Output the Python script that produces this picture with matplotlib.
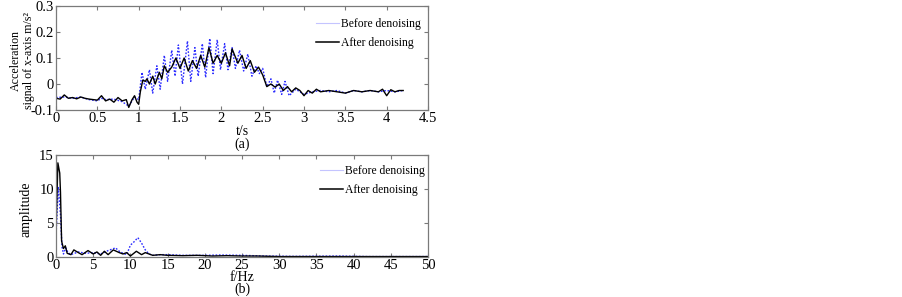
import matplotlib
matplotlib.use("Agg")
import matplotlib.pyplot as plt
from matplotlib.lines import Line2D

# (a) time signal, after denoising (black)
t_after = [0.0, 0.05, 0.1, 0.15, 0.2, 0.25, 0.3, 0.35, 0.4, 0.45, 0.5, 0.55, 0.6, 0.65,
           0.7, 0.75, 0.8, 0.85, 0.88, 0.92, 0.95, 0.98, 1.0, 1.02, 1.05, 1.08, 1.1, 1.13,
           1.17, 1.2, 1.25, 1.28, 1.31, 1.35, 1.4, 1.45, 1.5, 1.55, 1.6, 1.65, 1.7, 1.75,
           1.8, 1.85, 1.9, 1.95, 2.0, 2.05, 2.1, 2.13, 2.2, 2.25, 2.3, 2.35, 2.4, 2.45,
           2.5, 2.55, 2.6, 2.65, 2.7, 2.75, 2.8, 2.85, 2.9, 2.95, 3.0, 3.05, 3.1, 3.15,
           3.2, 3.3, 3.4, 3.5, 3.6, 3.7, 3.8, 3.9, 3.95, 4.0, 4.05, 4.1, 4.15, 4.2]
a_after = [-0.055, -0.058, -0.042, -0.055, -0.052, -0.057, -0.05, -0.055, -0.058, -0.06,
           -0.062, -0.045, -0.065, -0.058, -0.07, -0.052, -0.065, -0.06, -0.09, -0.06,
           -0.045, -0.07, -0.078, -0.03, 0.015, 0.01, 0.02, 0.0, 0.03, 0.0, 0.045, 0.02,
           0.07, 0.045, 0.065, 0.1, 0.06, 0.1, 0.05, 0.09, 0.06, 0.11, 0.065, 0.14, 0.08,
           0.11, 0.08, 0.12, 0.07, 0.135, 0.08, 0.11, 0.06, 0.09, 0.045, 0.065, 0.035,
           -0.01, 0.0, -0.012, 0.0, -0.025, -0.01, -0.03, -0.015, -0.025, -0.045, -0.025,
           -0.035, -0.02, -0.03, -0.025, -0.03, -0.035, -0.025, -0.03, -0.025, -0.03,
           -0.02, -0.045, -0.022, -0.03, -0.025, -0.025]

# (a) time signal, before denoising (blue dotted)
t_before = [0.0, 0.1, 0.2, 0.3, 0.4, 0.5, 0.55, 0.6, 0.7, 0.8, 0.88, 0.95, 1.0,
            1.04, 1.08, 1.13, 1.17, 1.22, 1.26, 1.31, 1.35, 1.4, 1.44, 1.48, 1.53,
            1.59, 1.63, 1.68, 1.72, 1.77, 1.81, 1.86, 1.9, 1.95, 1.99, 2.04, 2.08,
            2.13, 2.17, 2.22, 2.27, 2.32, 2.37, 2.42, 2.46, 2.5, 2.55, 2.6, 2.64,
            2.68, 2.73, 2.77, 2.82, 2.9, 3.0, 3.1, 3.2, 3.3, 3.4, 3.5, 3.6, 3.7,
            3.8, 3.9, 4.0, 4.1, 4.2]
a_before = [-0.052, -0.05, -0.055, -0.05, -0.06, -0.065, -0.055, -0.06, -0.058, -0.068,
            -0.085, -0.05, -0.06, 0.045, -0.02, 0.055, -0.035, 0.07, -0.02, 0.11, 0.01,
            0.13, 0.03, 0.15, 0.0, 0.165, 0.01, 0.14, 0.03, 0.155, 0.025, 0.175, 0.04,
            0.17, 0.055, 0.155, 0.055, 0.14, 0.06, 0.13, 0.05, 0.115, 0.03, 0.07, 0.04,
            0.06, -0.01, 0.02, -0.035, 0.015, -0.04, 0.01, -0.045, -0.02, -0.04, -0.03,
            -0.025, -0.03, -0.025, -0.035, -0.025, -0.03, -0.025, -0.03, -0.025, -0.03,
            -0.025]

# (b) spectrum, after denoising (black)
f_after = [0.0, 0.25, 0.5, 0.6, 0.75, 1.0, 1.25, 1.5, 2.0, 2.4, 3.0, 3.5, 4.3, 5.0, 5.5,
           6.0, 6.5, 7.0, 7.7, 8.5, 9.0, 9.5, 10.0, 10.8, 11.5, 12.0, 13.0, 14.0, 15.0,
           17.0, 19.0, 21.0, 23.0, 25.0, 27.0, 30.0, 40.0, 50.0]
amp_after = [3.5, 13.8, 12.3, 9.5, 2.3, 1.2, 1.6, 0.5, 0.3, 1.0, 0.6, 0.3, 0.9, 0.4, 0.7,
             0.2, 0.8, 0.3, 1.0, 0.6, 0.4, 0.6, 0.1, 0.8, 0.3, 0.6, 0.2, 0.3, 0.2, 0.15,
             0.2, 0.1, 0.15, 0.1, 0.1, 0.02, 0.02, 0.02]

# (b) spectrum, before denoising (blue dotted)
f_before = [0.0, 0.3, 0.6, 0.8, 1.0, 1.3, 1.6, 2.0, 3.0, 4.0, 5.0, 6.0, 7.0, 7.5, 8.0,
            8.5, 9.0, 9.5, 10.0, 10.5, 11.0, 11.5, 12.0, 12.5, 13.0, 14.0, 15.0, 17.0,
            20.0, 22.0, 25.0, 28.0, 32.0, 38.0, 42.0, 50.0]
amp_before = [3.0, 10.3, 6.2, 1.5, 0.4, 1.3, 0.6, 0.3, 0.7, 0.5, 0.6, 0.4, 0.9, 1.1, 1.3,
              0.8, 0.5, 0.3, 1.7, 2.2, 2.8, 2.0, 1.0, 0.4, 0.2, 0.3, 0.3, 0.2, 0.2, 0.25,
              0.2, 0.1, 0.05, 0.1, 0.02, 0.02]

plt.rcParams["font.family"] = ["Liberation Serif", "DejaVu Serif"]
plt.rcParams["font.size"] = 8.5

BLUE = "#2b2bff"
LEGEND_BLUE = "#c4c4ff"
SPINE = "#7a7a7a"


def style_axes(ax):
    ax.tick_params(direction="in", top=True, right=True, length=3, width=0.8,
                   colors=SPINE, labelcolor="black", pad=1.5, labelsize=10.5)
    for spine in ax.spines.values():
        spine.set_color(SPINE)
        spine.set_linewidth(0.9)


def add_legend(ax, anchor):
    handles = [Line2D([], [], color=LEGEND_BLUE, lw=0.8),
               Line2D([], [], color="black", lw=1.1)]
    ax.legend(handles, ["Before denoising", "After denoising"], loc="upper right",
              bbox_to_anchor=anchor, frameon=False, handlelength=2.0, handletextpad=0.15,
              labelspacing=0.6, borderaxespad=0.2, fontsize=8.4)


fig = plt.figure(figsize=(9.02, 2.97), dpi=100)
ax1 = fig.add_axes([0.0621, 0.6296, 0.4124, 0.3502])
ax2 = fig.add_axes([0.0621, 0.1357, 0.4124, 0.3434])

ax1.plot(t_before, a_before, color=BLUE, ls=(0, (1.2, 1.2)), lw=1.0)
ax1.plot(t_after, a_after, color="black", lw=1.0)
ax1.set_xlim(0, 4.5)
ax1.set_ylim(-0.1, 0.3)
ax1.set_xticks([0, 0.5, 1, 1.5, 2, 2.5, 3, 3.5, 4, 4.5])
ax1.set_xticklabels(["0", "0.5", "1", "1.5", "2", "2.5", "3", "3.5", "4", "4.5"])
ax1.set_yticks([-0.1, 0, 0.1, 0.2, 0.3])
ax1.set_yticklabels(["-0.1", "0", "0.1", "0.2", "0.3"])
ax1.set_ylabel("Acceleration\nsignal of x-axis m/s²", linespacing=1.05, fontsize=8.6)
ax1.yaxis.set_label_coords(-0.057, 0.48)
ax1.set_xlabel("t/s\n(a)", linespacing=0.95, fontsize=10)
ax1.xaxis.set_label_coords(0.5, -0.145)
style_axes(ax1)
add_legend(ax1, (1.0, 0.95))

ax2.plot(f_before, amp_before, color=BLUE, ls=(0, (1.2, 1.2)), lw=1.0)
ax2.plot(f_after, amp_after, color="black", lw=1.0)
ax2.set_xlim(0, 50)
ax2.set_ylim(0, 15)
ax2.set_xticks(range(0, 51, 5))
ax2.set_yticks([0, 5, 10, 15])
ax2.set_ylabel("amplitude", fontsize=10)
ax2.yaxis.set_label_coords(-0.062, 0.47)
ax2.set_xlabel("f/Hz\n(b)", linespacing=0.85, fontsize=10)
ax2.xaxis.set_label_coords(0.5, -0.14)
style_axes(ax2)
add_legend(ax2, (1.01, 0.97))

fig.savefig("out.png", dpi=100)
